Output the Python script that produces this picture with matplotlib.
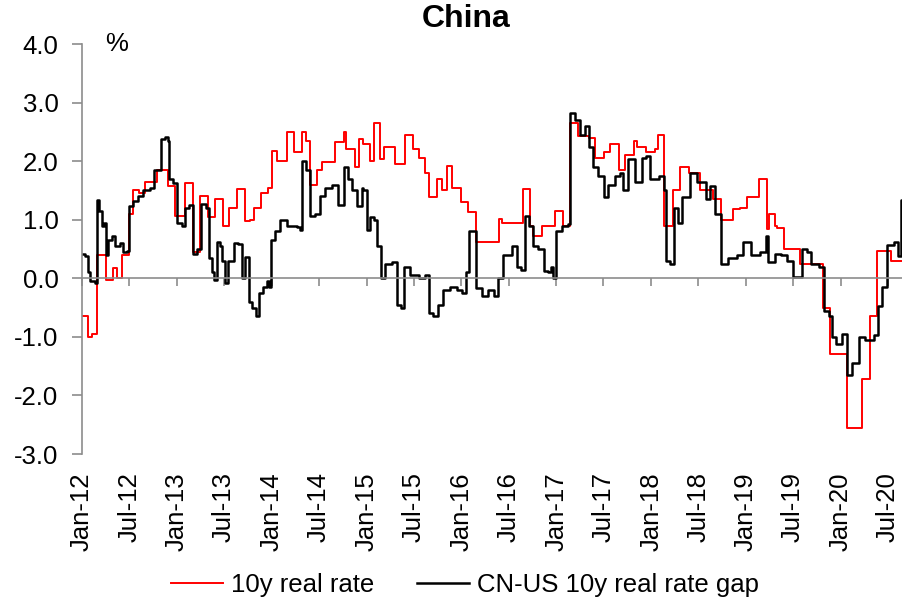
import matplotlib
matplotlib.use("Agg")
import matplotlib.pyplot as plt
import pandas as pd

plt.rcParams['font.family'] = ['Liberation Sans', 'DejaVu Sans']

# ---- data (months since Jan-2012, value in %) ----
real_months = [0.0, 0.8, 1.3, 1.95, 3.0, 3.95, 4.4, 5.0, 5.95, 6.5, 7.2, 7.95, 9.45, 10.9, 11.8,
               13.0, 14.1, 14.95, 16.0, 16.85, 17.9, 18.6, 19.6, 20.6, 21.3, 21.8, 22.7, 23.5,
               24.0, 24.7, 25.9, 26.8, 27.8, 28.3, 28.9, 29.7, 30.4, 32.0, 33.1, 33.4, 34.5,
               35.0, 35.6, 36.4, 36.9, 37.7, 38.2, 39.6, 40.9, 41.9, 42.7, 43.4, 43.9, 44.9,
               45.5, 46.2, 46.8, 47.9, 48.9, 49.9, 52.7, 53.2, 55.85, 56.7, 57.1, 58.2, 59.85,
               60.9, 61.76, 62.8, 64.1, 64.9, 66.0, 66.8, 67.9, 68.7, 69.8, 70.2, 71.3, 72.5,
               72.9, 73.7, 74.8, 75.7, 76.8, 78.2, 79.9, 80.8, 82.4, 83.2, 84.1, 85.6, 86.7,
               86.9, 87.7, 88.0, 88.8, 90.9, 93.8, 94.7, 96.8, 98.7, 99.75, 100.6, 102.3, 103.8]
real_rate = [-0.65, -1.0, -0.95, 0.4, -0.03, 0.17, 0.0, 0.4, 1.1, 1.5, 1.45, 1.65, 1.85, 1.58, 1.07,
             1.63, 0.45, 1.4, 1.05, 1.35, 0.9, 1.2, 1.53, 0.98, 1.0, 1.2, 1.45, 1.55,
             2.18, 2.0, 2.5, 2.15, 2.5, 2.35, 1.6, 1.85, 1.98, 2.32, 2.5, 2.2, 1.9,
             2.38, 2.3, 2.0, 2.65, 2.03, 2.25, 1.95, 2.45, 2.2, 2.05, 1.8, 1.38, 1.7,
             1.5, 1.92, 1.55, 1.3, 1.13, 0.62, 1.02, 0.95, 1.53, 0.9, 0.72, 0.9, 1.15,
             0.9, 2.65, 2.43, 2.4, 2.05, 2.15, 2.3, 1.85, 2.1, 2.35, 2.25, 2.15, 2.2,
             2.44, 0.9, 1.5, 1.9, 1.8, 1.5, 1.35, 1.0, 1.18, 1.2, 1.38, 1.7, 0.85,
             1.1, 0.9, 0.86, 0.5, 0.25, -0.5, -1.3, -2.55, -1.72, -0.65, 0.46, 0.3, 0.3]

gap_months = [0.0, 0.4, 0.8, 1.0, 1.65, 1.86, 2.2, 2.5, 2.8, 3.04, 3.3, 3.75, 4.2, 4.8, 5.2, 5.65,
              5.95, 6.5, 7.1, 7.75, 8.6, 9.1, 9.65, 10.0, 10.5, 10.9, 11.05, 11.55, 12.0, 12.6,
              13.0, 13.6, 14.0, 14.5, 15.0, 15.7, 16.1, 16.5, 16.75, 17.05, 17.5, 17.7, 18.1,
              18.5, 19.2, 19.8, 20.2, 20.6, 21.1, 21.5, 22.0, 22.45, 22.9, 23.4, 23.7, 23.9,
              24.4, 25.1, 25.9, 27.2, 27.6, 27.8, 28.4, 28.9, 29.5, 30.1, 30.8, 31.6, 32.45,
              33.2, 33.7, 34.1, 34.8, 35.4, 35.6, 36.0, 36.45, 36.9, 37.3, 37.8, 38.35, 39.2,
              39.8, 40.3, 40.8, 41.5, 42.6, 43.4, 43.95, 44.4, 45.1, 45.7, 46.6, 47.4, 48.1,
              48.6, 49.0, 49.5, 49.8, 50.6, 51.4, 52.1, 52.6, 53.25, 54.4, 55.0, 55.6, 56.0,
              56.5, 57.1, 57.75, 58.4, 59.0, 59.3, 59.65, 59.95, 60.7, 61.55, 61.76, 62.4,
              63.0, 63.7, 64.1, 64.7, 65.35, 66.0, 66.6, 67.5, 68.1, 68.5, 69.1, 70.0, 70.8,
              71.3, 71.9, 72.95, 73.6, 73.85, 74.4, 74.9, 75.35, 75.9, 76.9, 77.8, 78.9, 79.4,
              80.1, 80.8, 81.8, 82.9, 83.6, 84.6, 85.8, 86.5, 86.75, 87.7, 88.5, 89.2, 90.0,
              91.1, 91.7, 92.2, 93.2, 93.9, 94.5, 94.9, 95.4, 96.15, 96.8, 97.4, 98.3, 99.1,
              100.2, 100.7, 101.2, 101.9, 102.7, 103.3, 103.6, 103.8]
gap_rate = [0.42, 0.38, 0.1, -0.05, -0.08, 1.33, 1.15, 0.9, 0.95, 0.4, 0.65, 0.72, 0.55, 0.6, 0.45, 0.47,
            1.24, 1.32, 1.4, 1.5, 1.55, 1.85, 1.85, 2.37, 2.42, 2.35, 1.7, 1.62, 0.95, 0.9,
            1.2, 1.25, 0.42, 0.5, 1.27, 1.2, 0.35, 0.1, -0.03, 0.62, 0.55, 0.3, -0.08,
            0.3, 0.6, 0.58, 0.0, 0.37, -0.4, -0.5, -0.65, -0.25, -0.15, -0.05, -0.15, 0.65,
            0.8, 1.0, 0.9, 0.88, 0.82, 2.0, 1.85, 1.07, 1.1, 1.4, 1.55, 1.6, 1.25,
            1.9, 1.7, 1.5, 1.24, 1.55, 1.5, 0.82, 1.05, 1.0, 0.55, 0.0, 0.25, 0.28,
            -0.45, -0.5, 0.2, 0.05, 0.0, 0.05, -0.6, -0.65, -0.45, -0.2, -0.15, -0.2, -0.25,
            0.1, 0.8, 0.8, -0.17, -0.3, -0.2, -0.3, 0.0, 0.4, 0.55, 0.2, 0.15, 1.07,
            0.9, 0.55, 0.5, 0.12, 0.1, 0.2, 0.0, 0.8, 0.9, 0.93, 2.82, 2.7,
            2.45, 2.6, 2.25, 1.9, 1.75, 1.38, 1.6, 1.75, 1.8, 1.5, 2.03, 1.65, 2.06,
            2.09, 1.7, 1.75, 1.5, 0.3, 0.25, 1.2, 0.95, 1.38, 1.8, 1.65, 1.35, 1.58,
            1.1, 0.25, 0.35, 0.4, 0.62, 0.4, 0.45, 0.73, 0.28, 0.42, 0.4, 0.3, 0.02,
            0.5, 0.45, 0.25, 0.2, -0.55, -0.65, -1.0, -1.12, -0.95, -1.65, -1.45, -1.0, -1.05,
            -0.97, -0.47, -0.15, 0.57, 0.62, 0.38, 1.34, 1.34]

tick_labels = ['Jan-12', 'Jul-12', 'Jan-13', 'Jul-13', 'Jan-14', 'Jul-14', 'Jan-15', 'Jul-15',
               'Jan-16', 'Jul-16', 'Jan-17', 'Jul-17', 'Jan-18', 'Jul-18', 'Jan-19', 'Jul-19',
               'Jan-20', 'Jul-20']
y_ticks = [-3.0, -2.0, -1.0, 0.0, 1.0, 2.0, 3.0, 4.0]

base = pd.Timestamp('2012-01-01')
def to_dates(months):
    return [base + pd.Timedelta(days=m * 30.4375) for m in months]

real_dates = to_dates(real_months)
gap_dates = to_dates(gap_months)
tick_dates = [pd.Timestamp(f"20{l[-2:]}-{'01' if l.startswith('Jan') else '07'}-01") for l in tick_labels]

FS = 18.5
GREY = '#8c8c8c'

fig = plt.figure(figsize=(9.02, 6.04), dpi=100)
ax = fig.add_axes([82/902, 1 - 454/604, 820/902, (454 - 44)/604])

ax.plot(real_dates, real_rate, color='#ff0000', lw=1.4, drawstyle='steps-post', label='10y real rate')
ax.plot(gap_dates, gap_rate, color='black', lw=1.8, drawstyle='steps-post', label='CN-US 10y real rate gap')

ax.set_ylim(-3.0, 4.0)
ax.set_xlim(pd.Timestamp('2012-01-01'), pd.Timestamp('2020-08-24'))
ax.set_yticks(y_ticks)
ax.set_yticklabels([f"{v:.1f}" for v in y_ticks], fontsize=FS)
ax.tick_params(axis='y', direction='out', length=7, width=1.2, color=GREY, pad=10)

for s in ['top', 'right']:
    ax.spines[s].set_visible(False)
ax.spines['left'].set_color(GREY)
ax.spines['left'].set_linewidth(1.2)
ax.spines['bottom'].set_position(('data', 0))
ax.spines['bottom'].set_color(GREY)
ax.spines['bottom'].set_linewidth(1.2)
ax.set_xticks(tick_dates)
ax.tick_params(axis='x', direction='out', length=5.5, width=1.2, color=GREY, labelbottom=False)

sec = ax.secondary_xaxis('bottom')
sec.set_xticks(tick_dates)
sec.set_xticklabels(tick_labels, rotation=90, fontsize=FS)
sec.tick_params(axis='x', length=0, pad=13)
sec.spines['bottom'].set_visible(False)

ax.annotate('%', xy=(0.028, 4.0), xycoords=('axes fraction', 'data'), fontsize=FS,
            ha='left', va='center')

fig.text(466/902, 1 - 19/604, 'China', fontsize=23, fontweight='bold', ha='center', va='center')

fig.legend(loc='center', bbox_to_anchor=(465/902, 1 - 585/604), ncol=2, frameon=False,
           fontsize=FS, handlelength=2.0, handletextpad=0.3, columnspacing=1.7)

fig.savefig('out.png', dpi=100)
